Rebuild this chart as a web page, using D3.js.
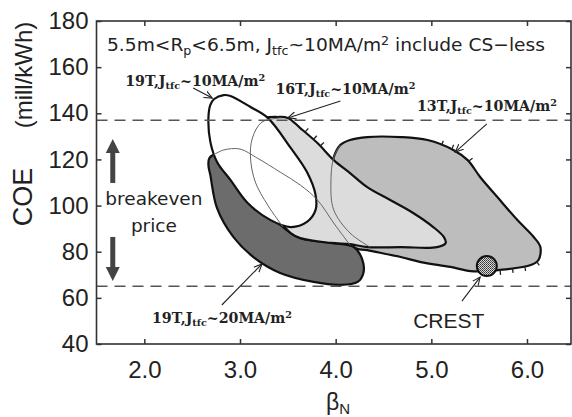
<!DOCTYPE html>
<html>
<head>
<meta charset="utf-8">
<script src="https://cdn.jsdelivr.net/npm/d3@7"></script>
<style>
  body { margin: 0; background: #fff; }
  text { fill: #222; }
</style>
</head>
<body>
<svg id="chart" width="572" height="417"></svg>
<script>
// axis ticks
const xTicks = [2.0, 3.0, 4.0, 5.0, 6.0];
const yTicks = [40, 60, 80, 100, 120, 140, 160, 180];
const breakevenLevels = [137, 65];

// operating regions, [betaN, COE]
const region13T = [
  [4.05, 126.3], [4.15, 128.4], [4.33, 129.7], [4.68, 129.7], [4.96, 128.4],
  [5.23, 124.1], [5.38, 119.7], [5.51, 112.4], [5.69, 103.7], [5.90, 93.7],
  [6.07, 86.4], [6.14, 82.0], [6.12, 76.4], [6.04, 74.2], [5.72, 72.1],
  [5.58, 71.6], [5.41, 71.6], [5.20, 73.4], [4.89, 75.5], [4.68, 77.7],
  [4.33, 80.7], [4.19, 82.0], [4.02, 99.4], [3.95, 112.4], [3.98, 121.0]
];
const region19T20 = [
  [2.69, 113.2], [2.76, 98.9], [2.93, 86.4], [3.14, 77.7], [3.42, 70.8],
  [3.77, 66.9], [4.05, 65.6], [4.23, 66.9], [4.29, 70.8], [4.28, 76.4],
  [4.19, 82.0], [3.95, 83.8], [3.60, 86.4], [3.42, 91.6], [3.11, 102.4],
  [2.85, 115.4], [2.74, 121.9], [2.68, 120.6], [2.67, 117.5]
];
const region16T = [
  [3.27, 138.0], [3.39, 138.4], [3.50, 138.0], [3.63, 133.6], [3.81, 127.1],
  [3.98, 119.7], [4.15, 114.1], [4.33, 108.0], [4.57, 102.4], [4.81, 96.8],
  [5.02, 90.7], [5.13, 86.4], [5.15, 83.8], [5.06, 82.0], [4.68, 82.0],
  [4.33, 82.0], [4.15, 83.3], [3.95, 83.8], [3.63, 85.9], [3.53, 88.1],
  [3.42, 92.9], [3.29, 100.2], [3.16, 110.2], [3.11, 120.6], [3.13, 129.3],
  [3.21, 136.2]
];
const region19T10 = [
  [2.69, 143.6], [2.73, 146.2], [2.83, 147.9], [2.90, 147.5], [3.11, 142.7],
  [3.29, 138.0], [3.53, 125.0], [3.70, 114.5], [3.79, 104.6], [3.79, 98.1],
  [3.70, 92.9], [3.53, 90.7], [3.32, 93.7], [3.08, 101.1], [2.90, 111.1],
  [2.76, 118.9], [2.69, 127.6], [2.67, 138.0]
];

// CS-less boundaries (thin lines)
const csLess19T = [
  [2.72, 121.9], [2.83, 124.1], [3.00, 124.5], [3.18, 120.6], [3.42, 114.5],
  [3.63, 108.9], [3.81, 102.4], [3.98, 92.4], [4.15, 82.9]
];
const csLess16T = [
  [3.44, 138.0], [3.23, 136.2], [3.13, 129.3], [3.11, 120.6], [3.16, 110.2],
  [3.29, 100.2], [3.45, 90.7]
];
const csLess13T = [
  [4.05, 126.3], [3.98, 121.0], [3.95, 109.8], [3.98, 98.1], [4.15, 88.1],
  [4.36, 82.0]
];

// hatched stretches of the region edges
const hatch16T = [[3.70, 132.8], [3.79, 129.7], [3.86, 126.7]];
const hatch13T = [[5.12, 127.6], [5.22, 125.0], [5.38, 118.9],
  [5.72, 71.6], [5.85, 72.1], [5.98, 73.0], [6.11, 75.2]];

const crest = [5.58, 73.8];

// annotation anchors in data units
const caseLabels = [
  { name: "19T,", j: "10", at: [1.80, 151.8], from: [2.51, 151.0], to: [2.71, 146.6] },
  { name: "16T,", j: "10", at: [3.37, 148.4], from: [4.05, 145.3], to: [3.50, 138.0] },
  { name: "13T,", j: "10", at: [4.85, 141.0], from: [5.58, 135.4], to: [5.25, 123.2] },
  { name: "19T,", j: "20", at: [2.08, 49.1], from: [2.81, 56.9], to: [3.23, 74.7] }
];
const crestNote = { at: [4.81, 46.9], from: [5.32, 58.6], to: [5.51, 69.0] };
const breakevenArrows = [[109.8, 128.9], [86.4, 67.3]];
const breakevenX = 1.67;

const svg = d3.select("#chart");
const x = d3.scaleLinear().domain([1.5, 6.46]).range([96.5, 571]);
const y = d3.scaleLinear().domain([40, 180]).range([344, 21]);

const sans = "'Liberation Sans', Arial, sans-serif";
const dejavu = "'DejaVu Sans', sans-serif";
const serif = "'DejaVu Serif', serif";

svg.append("defs").append("marker")
  .attr("id", "head")
  .attr("viewBox", "0 -5 10 10")
  .attr("refX", 9).attr("refY", 0)
  .attr("markerWidth", 9).attr("markerHeight", 9)
  .attr("markerUnits", "userSpaceOnUse")
  .attr("orient", "auto")
  .append("path")
  .attr("d", "M0,-4L9,0L0,4")
  .attr("fill", "none").attr("stroke", "#222").attr("stroke-width", 1.2);

const pat = svg.select("defs").append("pattern")
  .attr("id", "dots").attr("width", 2).attr("height", 2)
  .attr("patternUnits", "userSpaceOnUse");
pat.append("rect").attr("width", 2).attr("height", 2).attr("fill", "#d8d8d8");
pat.append("rect").attr("width", 1).attr("height", 1).attr("fill", "#333");
pat.append("rect").attr("x", 1).attr("y", 1).attr("width", 1).attr("height", 1).attr("fill", "#555");

// regions
const area = d3.line()
  .x(d => x(d[0])).y(d => y(d[1]))
  .curve(d3.curveCatmullRomClosed.alpha(0.5));
const open = d3.line()
  .x(d => x(d[0])).y(d => y(d[1]))
  .curve(d3.curveCatmullRom.alpha(0.5));

const regions = [
  [region13T, "#bdbdbd"],
  [region19T20, "#6c6c6c"],
  [region16T, "#dcdcdc"],
  [region19T10, "#ffffff"]
];
svg.append("g").selectAll("path").data(regions).join("path")
  .attr("d", d => area(d[0]))
  .attr("fill", d => d[1])
  .attr("stroke", "#111")
  .attr("stroke-width", 2.2)
  .attr("stroke-linejoin", "round");

svg.append("g").selectAll("path").data([csLess19T, csLess16T, csLess13T]).join("path")
  .attr("d", open)
  .attr("fill", "none")
  .attr("stroke", "#666")
  .attr("stroke-width", 1);

// little outward ticks on hatched edges
function hatch(region, pts) {
  const poly = region.map(d => [x(d[0]), y(d[1])]);
  const c = d3.polygonCentroid(poly);
  pts.forEach(d => {
    const p = [x(d[0]), y(d[1])];
    let best = null;
    poly.forEach((a, i) => {
      const b = poly[(i + 1) % poly.length];
      const dx = b[0] - a[0], dy = b[1] - a[1];
      const t = Math.max(0, Math.min(1, ((p[0] - a[0]) * dx + (p[1] - a[1]) * dy) / (dx * dx + dy * dy)));
      const q = [a[0] + t * dx, a[1] + t * dy];
      const dist = Math.hypot(p[0] - q[0], p[1] - q[1]);
      if (!best || dist < best.dist) best = { dist, q, dx, dy };
    });
    const len = Math.hypot(best.dx, best.dy);
    let n = [-best.dy / len, best.dx / len];
    if ((best.q[0] - c[0]) * n[0] + (best.q[1] - c[1]) * n[1] < 0) n = [-n[0], -n[1]];
    svg.append("line")
      .attr("x1", best.q[0]).attr("y1", best.q[1])
      .attr("x2", best.q[0] + n[0] * 5).attr("y2", best.q[1] + n[1] * 5)
      .attr("stroke", "#222").attr("stroke-width", 1.3);
  });
}
hatch(region16T, hatch16T);
hatch(region13T, hatch13T);

// breakeven dashed lines
svg.append("g").selectAll("line").data(breakevenLevels).join("line")
  .attr("x1", x.range()[0]).attr("x2", x.range()[1])
  .attr("y1", d => y(d)).attr("y2", d => y(d))
  .attr("stroke", "#555").attr("stroke-width", 1.6)
  .attr("stroke-dasharray", "11,7");

svg.append("circle")
  .attr("cx", x(crest[0])).attr("cy", y(crest[1])).attr("r", 10)
  .attr("fill", "url(#dots)").attr("stroke", "#111").attr("stroke-width", 2);

// frame and axes
svg.append("rect")
  .attr("x", x.range()[0]).attr("y", y.range()[1])
  .attr("width", x.range()[1] - x.range()[0])
  .attr("height", y.range()[0] - y.range()[1])
  .attr("fill", "none").attr("stroke", "#333").attr("stroke-width", 1.6);

function styleAxis(g) {
  g.select(".domain").remove();
  g.selectAll(".tick line").attr("stroke", "#333").attr("stroke-width", 1.5);
  g.selectAll(".tick text").attr("font-family", sans).attr("font-size", 24).attr("fill", "#222");
}
svg.append("g").attr("transform", `translate(0,${y.range()[0]})`)
  .call(d3.axisBottom(x).tickValues(xTicks).tickFormat(d3.format(".1f"))
    .tickSize(-5).tickSizeOuter(0).tickPadding(17))
  .call(styleAxis);
svg.append("g").attr("transform", `translate(0,${y.range()[1]})`)
  .call(d3.axisTop(x).tickValues(xTicks).tickFormat("").tickSize(-5).tickSizeOuter(0))
  .call(styleAxis);
svg.append("g").attr("transform", `translate(${x.range()[0]},0)`)
  .call(d3.axisLeft(y).tickValues(yTicks).tickSize(-5).tickSizeOuter(0).tickPadding(8))
  .call(styleAxis);
svg.append("g").attr("transform", `translate(${x.range()[1]},0)`)
  .call(d3.axisRight(y).tickValues(yTicks).tickFormat("").tickSize(-5).tickSizeOuter(0))
  .call(styleAxis);

// axis titles
const bl = svg.append("text").attr("x", 326).attr("y", 410)
  .attr("font-family", sans).attr("font-size", 23);
bl.append("tspan").text("β");
bl.append("tspan").attr("dy", 4).attr("font-size", 15).text("N");

svg.append("text").attr("transform", "translate(32,197) rotate(-90)")
  .attr("text-anchor", "middle").attr("font-family", sans).attr("font-size", 27)
  .text("COE");
svg.append("text").attr("transform", "translate(32,75) rotate(-90)")
  .attr("text-anchor", "middle").attr("font-family", sans).attr("font-size", 24)
  .text("(mill/kWh)");

// rich text helper: parts of [string, "n" | "sub" | "sup"]
function rich(sel, parts, size, shift) {
  let cur = 0;
  parts.forEach(([s, k]) => {
    const t = sel.append("tspan").text(s);
    const want = k === "sub" ? shift : k === "sup" ? -shift * 1.6 : 0;
    t.attr("dy", want - cur);
    if (k !== "n") t.attr("font-size", size * 0.68);
    cur = want;
  });
}

const title = svg.append("text").attr("x", 107).attr("y", 51)
  .attr("font-family", dejavu).attr("font-size", 18)
  .attr("textLength", 438).attr("lengthAdjust", "spacingAndGlyphs");
rich(title, [["5.5m<R", "n"], ["p", "sub"], ["<6.5m, J", "n"], ["tfc", "sub"],
  ["~10MA/m", "n"], ["2", "sup"], [" include CS\u2212less", "n"]], 18, 4);

caseLabels.forEach(c => {
  const t = svg.append("text")
    .attr("x", x(c.at[0])).attr("y", y(c.at[1]))
    .attr("font-family", serif).attr("font-weight", "bold").attr("font-size", 14)
    .attr("textLength", 140).attr("lengthAdjust", "spacingAndGlyphs");
  rich(t, [[c.name + "J", "n"], ["tfc", "sub"], ["~" + c.j + "MA/m", "n"], ["2", "sup"]], 14, 3);
  svg.append("line")
    .attr("x1", x(c.from[0])).attr("y1", y(c.from[1]))
    .attr("x2", x(c.to[0])).attr("y2", y(c.to[1]))
    .attr("stroke", "#222").attr("stroke-width", 1.1)
    .attr("marker-end", "url(#head)");
});

svg.append("text").attr("x", x(crestNote.at[0])).attr("y", y(crestNote.at[1]))
  .attr("font-family", sans).attr("font-size", 21).text("CREST");
svg.append("line")
  .attr("x1", x(crestNote.from[0])).attr("y1", y(crestNote.from[1]))
  .attr("x2", x(crestNote.to[0])).attr("y2", y(crestNote.to[1]))
  .attr("stroke", "#222").attr("stroke-width", 1.1)
  .attr("marker-end", "url(#head)");

// breakeven price note
svg.append("text").attr("x", x(2.10)).attr("y", y(100.2))
  .attr("text-anchor", "middle").attr("font-family", dejavu).attr("font-size", 18.5)
  .attr("fill", "#333").text("breakeven");
svg.append("text").attr("x", x(2.10)).attr("y", y(88.5))
  .attr("text-anchor", "middle").attr("font-family", dejavu).attr("font-size", 18.5)
  .attr("fill", "#333").text("price");

breakevenArrows.forEach(([a, b]) => {
  const cx = x(breakevenX), y0 = y(a), y1 = y(b);
  const dir = Math.sign(y1 - y0);
  const hb = y1 - dir * 14;
  svg.append("line").attr("x1", cx).attr("x2", cx).attr("y1", y0).attr("y2", hb)
    .attr("stroke", "#444").attr("stroke-width", 5);
  svg.append("path")
    .attr("d", `M${cx - 7},${hb}L${cx + 7},${hb}L${cx},${y1}Z`)
    .attr("fill", "#444");
});
</script>
</body>
</html>
